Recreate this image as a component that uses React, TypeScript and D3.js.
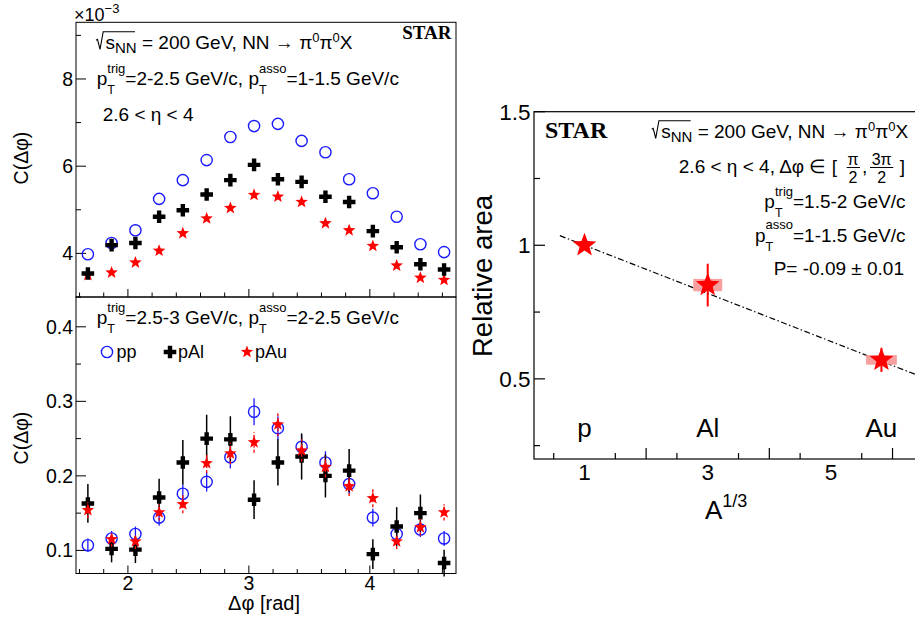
import React from "react";
import * as d3 from "d3";

// ---------- data ----------
const dphiBins = [1.669, 1.865, 2.062, 2.258, 2.454, 2.651, 2.847, 3.043, 3.240, 3.436, 3.633, 3.829, 4.025, 4.222, 4.418, 4.614];

// top panel (x 1e-3)
const topPP = [3.98, 4.24, 4.53, 5.25, 5.68, 6.14, 6.67, 6.92, 6.97, 6.58, 6.32, 5.70, 5.38, 4.84, 4.21, 4.03];
const topPAl = [3.54, 4.19, 4.24, 4.84, 4.99, 5.35, 5.68, 6.03, 5.70, 5.64, 5.30, 5.18, 4.51, 4.14, 3.75, 3.63];
const topPAlErr = [0.08, 0.08, 0.08, 0.09, 0.09, 0.09, 0.1, 0.1, 0.1, 0.1, 0.1, 0.09, 0.09, 0.08, 0.08, 0.08];
const topPAu = [3.50, 3.56, 3.79, 4.06, 4.46, 4.80, 5.04, 5.34, 5.30, 5.18, 4.69, 4.53, 4.17, 3.72, 3.44, 3.39];

// bottom panel
const botPP = [0.107, 0.116, 0.122, 0.144, 0.176, 0.192, 0.225, 0.286, 0.264, 0.239, 0.218, 0.189, 0.144, 0.122, 0.128, 0.116];
const botPPErr = [0.009, 0.01, 0.01, 0.011, 0.012, 0.013, 0.015, 0.018, 0.016, 0.016, 0.015, 0.013, 0.012, 0.011, 0.01, 0.01];
const botPAl = [0.163, 0.102, 0.101, 0.171, 0.218, 0.250, 0.249, 0.168, 0.218, 0.226, 0.200, 0.207, 0.095, 0.132, 0.150, 0.083];
const botPAlErr = [0.026, 0.018, 0.018, 0.025, 0.030, 0.032, 0.031, 0.026, 0.031, 0.031, 0.029, 0.029, 0.020, 0.026, 0.025, 0.018];
const botPAu = [0.154, 0.115, 0.112, 0.151, 0.162, 0.217, 0.230, 0.245, 0.269, 0.234, 0.212, 0.186, 0.170, 0.112, 0.131, 0.151];
const botPAuErr = [0.011, 0.01, 0.01, 0.011, 0.012, 0.013, 0.014, 0.014, 0.016, 0.015, 0.014, 0.013, 0.012, 0.01, 0.011, 0.011];

// right panel
const nuclei = ["p", "Al", "Au"];
const nucleiA13 = [1, 3, 5.82];
const relArea = [1.0, 0.851, 0.571];
const relAreaStat = [0.015, 0.08, 0.045];
const relAreaSys = [0, 0.023, 0.018];
const relAreaSysHalfW = [0, 0.235, 0.25];
const fitP = -0.09;
const fitStart = 0.6;

// ticks
const leftXMajor = [2, 3, 4];
const leftXAll = [1.6, 1.8, 2.0, 2.2, 2.4, 2.6, 2.8, 3.0, 3.2, 3.4, 3.6, 3.8, 4.0, 4.2, 4.4, 4.6];
const topYMajor = [4, 6, 8];
const topYMinor = [3, 5, 7, 9];
const botYMajor = [0.1, 0.2, 0.3, 0.4];
const botYMinor = [0.15, 0.25, 0.35];
const rightYMajor = [0.5, 1, 1.5];
const rightYMinor = [0.25, 0.75, 1.25];
const rightXMajor = [2, 4, 6];
const rightXMinor = [0.5, 1.5, 2.5, 3.5, 4.5, 5.5];
const rightXLabels = [1, 3, 5];

// ---------- layout ----------
const L = { x0: 76, x1: 456, yTop: 22.3, yMid: 297, yBot: 573.5 };
const R = { x0: 534, x1: 918.4, y0: 111.7, y1: 459 };

const FONT = "'Liberation Sans', Arial, Helvetica, sans-serif";
const SERIF = "'Liberation Serif', 'Times New Roman', serif";
const BLUE = "#1a1aff";
const RED = "#ff0000";

const xL = d3.scaleLinear().domain([Math.PI / 2, (3 * Math.PI) / 2]).range([L.x0, L.x1]);
const yTopS = d3.scaleLinear().domain([3.0, 9.3]).range([L.yMid, L.yTop]);
const yBotS = d3.scaleLinear().domain([0.069, 0.44]).range([L.yBot, L.yMid]);
const xR = d3.scaleLinear().domain([0.18, 6.42]).range([R.x0, R.x1]);
const yR = d3.scaleLinear().domain([0.2, 1.5]).range([R.y1, R.y0]);

function starPath(cx: number, cy: number, r: number, ratio = 0.42) {
  const pts: string[] = [];
  for (let i = 0; i < 10; i++) {
    const a = -Math.PI / 2 + (i * Math.PI) / 5;
    const rr = i % 2 ? r * ratio : r;
    pts.push(`${(cx + rr * Math.cos(a)).toFixed(2)},${(cy + rr * Math.sin(a)).toFixed(2)}`);
  }
  return "M" + pts.join("L") + "Z";
}
function crossPath(cx: number, cy: number, s: number, t: number) {
  return `M${cx - t},${cy - s}H${cx + t}V${cy - t}H${cx + s}V${cy + t}H${cx + t}V${cy + s}H${cx - t}V${cy + t}H${cx - s}V${cy - t}H${cx - t}Z`;
}

const Circle = ({ x, y }: { x: number; y: number }) => (
  <circle cx={x} cy={y} r={5.6} fill="none" stroke={BLUE} strokeWidth={1.4} />
);
const Cross = ({ x, y }: { x: number; y: number }) => <path d={crossPath(x, y, 6.3, 2.2)} fill="#000" />;
const Star = ({ x, y, r = 6.6 }: { x: number; y: number; r?: number }) => <path d={starPath(x, y, r)} fill={RED} />;

function pT(sup: string, key: string) {
  return [
    <tspan key={key + "p"}>p</tspan>,
    <tspan key={key + "T"} dy={9} fontSize={12.5}>T</tspan>,
    <tspan key={key + "s"} dx={-7.64} dy={-21.5} fontSize={13}>{sup}</tspan>,
  ];
}

function SqrtLine({ x0, y }: { x0: number; y: number }) {
  return (
    <g>
      <path
        d={`M${x0},${y - 9} L${x0 + 1.5},${y - 10} L${x0 + 4},${y} L${x0 + 7.2},${y - 17.6} H${x0 + 39}`}
        fill="none"
        stroke="#000"
        strokeWidth={1.1}
      />
      <text x={x0 + 9.5} y={y} fontSize={19} fontFamily={FONT}>
        s<tspan dy={4} fontSize={15}>NN</tspan>
        <tspan dy={-4}> = 200 GeV, NN → π</tspan>
        <tspan dy={-7.6} fontSize={13}>0</tspan>
        <tspan dy={7.6}>π</tspan>
        <tspan dy={-7.6} fontSize={13}>0</tspan>
        <tspan dy={7.6}>X</tspan>
      </text>
    </g>
  );
}

function LeftXTicks({ yAxis }: { yAxis: number }) {
  return (
    <g stroke="#000" strokeWidth={1}>
      {leftXAll.map((t) => {
        const major = leftXMajor.some((m) => Math.abs(m - t) < 1e-6);
        return <line key={t} x1={xL(t)} x2={xL(t)} y1={yAxis} y2={yAxis - (major ? 8 : 4.5)} />;
      })}
    </g>
  );
}

export default function App() {
  return (
    <svg width={915} height={620} style={{ position: "absolute", left: 0, top: 0, background: "#fff" }} fontFamily={FONT}>
      <rect x={0} y={0} width={915} height={620} fill="#fff" />

      {/* ===== TOP LEFT PANEL ===== */}
      <rect x={L.x0} y={L.yTop} width={L.x1 - L.x0} height={L.yMid - L.yTop} fill="none" stroke="#000" strokeWidth={1} />
      <LeftXTicks yAxis={L.yMid} />
      <g stroke="#000" strokeWidth={1}>
        {topYMajor.map((t) => <line key={t} x1={L.x0} x2={L.x0 + 10} y1={yTopS(t)} y2={yTopS(t)} />)}
        {topYMinor.map((t) => <line key={t} x1={L.x0} x2={L.x0 + 5} y1={yTopS(t)} y2={yTopS(t)} />)}
      </g>
      <g fontSize={19.5} textAnchor="end">
        {topYMajor.map((t) => (
          <text key={t} x={73} y={yTopS(t)} dy="0.36em">{t}</text>
        ))}
      </g>
      <text x={74} y={20.8} fontSize={18}>
        ×10<tspan dy={-8} fontSize={13}>−3</tspan>
      </text>
      <text transform={`translate(28,158) rotate(-90)`} textAnchor="middle" fontSize={19.5}>C(Δφ)</text>

      <SqrtLine x0={96} y={49.3} />
      <text x={451.5} y={39.3} textAnchor="end" fontFamily={SERIF} fontWeight="bold" fontSize={19}>STAR</text>
      <text x={96.7} y={85} fontSize={19}>
        {pT("trig", "a")}
        <tspan dy={12.5}>=2-2.5 GeV/c, </tspan>
        {pT("asso", "b")}
        <tspan dy={12.5}>=1-1.5 GeV/c</tspan>
      </text>
      <text x={102.7} y={120.5} fontSize={19}>2.6 &lt; η &lt; 4</text>

      {/* top data */}
      {topPP.map((v, i) => <Circle key={"tpp" + i} x={xL(dphiBins[i])} y={yTopS(v)} />)}
      {topPAu.map((v, i) => <Star key={"tau" + i} x={xL(dphiBins[i])} y={yTopS(v)} />)}
      <g stroke="#000" strokeWidth={1.5}>
        {topPAl.map((v, i) => (
          <line key={"tale" + i} x1={xL(dphiBins[i])} x2={xL(dphiBins[i])} y1={yTopS(v - topPAlErr[i])} y2={yTopS(v + topPAlErr[i])} />
        ))}
      </g>
      {topPAl.map((v, i) => <Cross key={"tal" + i} x={xL(dphiBins[i])} y={yTopS(v)} />)}

      {/* ===== BOTTOM LEFT PANEL ===== */}
      <rect x={L.x0} y={L.yMid} width={L.x1 - L.x0} height={L.yBot - L.yMid} fill="none" stroke="#000" strokeWidth={1} />
      <LeftXTicks yAxis={L.yBot} />
      <g stroke="#000" strokeWidth={1}>
        {botYMajor.map((t) => <line key={t} x1={L.x0} x2={L.x0 + 10} y1={yBotS(t)} y2={yBotS(t)} />)}
        {botYMinor.map((t) => <line key={t} x1={L.x0} x2={L.x0 + 5} y1={yBotS(t)} y2={yBotS(t)} />)}
      </g>
      <g fontSize={19.5} textAnchor="end">
        {botYMajor.map((t) => (
          <text key={t} x={73} y={yBotS(t)} dy="0.36em">{t.toFixed(1)}</text>
        ))}
      </g>
      <g fontSize={19.5} textAnchor="middle">
        {leftXMajor.map((t) => (
          <text key={t} x={xL(t)} y={590}>{t}</text>
        ))}
      </g>
      <text x={300} y={610} textAnchor="end" fontSize={20}>Δφ [rad]</text>
      <text transform={`translate(28,438) rotate(-90)`} textAnchor="middle" fontSize={19.5}>C(Δφ)</text>

      <text x={96.7} y={324} fontSize={19}>
        {pT("trig", "c")}
        <tspan dy={12.5}>=2.5-3 GeV/c, </tspan>
        {pT("asso", "d")}
        <tspan dy={12.5}>=2-2.5 GeV/c</tspan>
      </text>
      {/* legend */}
      <Circle x={107} y={352} />
      <text x={116.5} y={357.5} fontSize={18}>pp</text>
      <Cross x={170} y={352} />
      <text x={178} y={357.5} fontSize={18}>pAl</text>
      <Star x={247} y={352} />
      <text x={255} y={357.5} fontSize={18}>pAu</text>

      {/* bottom data */}
      <g stroke={BLUE} strokeWidth={1.3}>
        {botPP.map((v, i) => (
          <line key={"bppe" + i} x1={xL(dphiBins[i])} x2={xL(dphiBins[i])} y1={yBotS(v - botPPErr[i])} y2={yBotS(v + botPPErr[i])} />
        ))}
      </g>
      {botPP.map((v, i) => <Circle key={"bpp" + i} x={xL(dphiBins[i])} y={yBotS(v)} />)}
      <g stroke="#000" strokeWidth={1.5}>
        {botPAl.map((v, i) => (
          <line key={"bale" + i} x1={xL(dphiBins[i])} x2={xL(dphiBins[i])} y1={yBotS(v - botPAlErr[i])} y2={yBotS(v + botPAlErr[i])} />
        ))}
      </g>
      {botPAl.map((v, i) => <Cross key={"bal" + i} x={xL(dphiBins[i])} y={yBotS(v)} />)}
      <g stroke={RED} strokeWidth={1.3} strokeDasharray="3,2">
        {botPAu.map((v, i) => (
          <line key={"baue" + i} x1={xL(dphiBins[i])} x2={xL(dphiBins[i])} y1={yBotS(v - botPAuErr[i])} y2={yBotS(v + botPAuErr[i])} />
        ))}
      </g>
      {botPAu.map((v, i) => <Star key={"bau" + i} x={xL(dphiBins[i])} y={yBotS(v)} />)}

      {/* ===== RIGHT PANEL ===== */}
      <rect x={R.x0} y={R.y0} width={R.x1 - R.x0} height={R.y1 - R.y0} fill="none" stroke="#000" strokeWidth={1.2} />
      <g stroke="#000" strokeWidth={1.2}>
        {rightYMajor.map((t) => <line key={t} x1={R.x0} x2={R.x0 + 11} y1={yR(t)} y2={yR(t)} />)}
        {rightYMinor.map((t) => <line key={t} x1={R.x0} x2={R.x0 + 6} y1={yR(t)} y2={yR(t)} />)}
        {rightXMajor.map((t) => <line key={t} x1={xR(t)} x2={xR(t)} y1={R.y1} y2={R.y1 - 11} />)}
        {rightXMinor.map((t) => <line key={t} x1={xR(t)} x2={xR(t)} y1={R.y1} y2={R.y1 - 6} />)}
      </g>
      <g fontSize={22.5} textAnchor="end">
        {rightYMajor.map((t) => (
          <text key={t} x={530.5} y={yR(t)} dy="0.36em">{t}</text>
        ))}
      </g>
      <g fontSize={22.5} textAnchor="middle">
        {rightXLabels.map((t) => (
          <text key={t} x={xR(t)} y={480}>{t}</text>
        ))}
      </g>
      <text x={705} y={519} fontSize={26}>
        A<tspan dy={-12.5} fontSize={18}>1/3</tspan>
      </text>
      <text transform={`translate(492,357) rotate(-90)`} fontSize={27.5}>Relative area</text>

      <g fontSize={26} textAnchor="middle">
        {nuclei.map((n, i) => (
          <text key={n} x={xR(nucleiA13[i])} y={437}>{n}</text>
        ))}
      </g>

      <text x={545} y={138.3} fontFamily={SERIF} fontWeight="bold" fontSize={24}>STAR</text>
      <SqrtLine x0={651.7} y={138.3} />
      <text x={837} y={173.3} textAnchor="end" fontSize={19}>2.6 &lt; η &lt; 4, Δφ ∈ [</text>
      <g fontSize={16} textAnchor="middle">
        <text x={853} y={165}>π</text>
        <line x1={846.7} x2={860} y1={167.5} y2={167.5} stroke="#000" strokeWidth={1} />
        <text x={853} y={183.3}>2</text>
        <text x={881.7} y={165}>3π</text>
        <line x1={870} x2={893.3} y1={167.5} y2={167.5} stroke="#000" strokeWidth={1} />
        <text x={881.7} y={183.3}>2</text>
      </g>
      <text x={862} y={173.3} fontSize={19}>,</text>
      <text x={905} y={173.3} textAnchor="end" fontSize={19}>]</text>
      <text x={905.5} y={208.3} textAnchor="end" fontSize={19}>
        {pT("trig", "e")}
        <tspan dy={12.5}>=1.5-2 GeV/c</tspan>
      </text>
      <text x={905.5} y={241.7} textAnchor="end" fontSize={19}>
        {pT("asso", "f")}
        <tspan dy={12.5}>=1-1.5 GeV/c</tspan>
      </text>
      <text x={904} y={275} textAnchor="end" fontSize={19}>P= -0.09 ± 0.01</text>

      {/* fit line */}
      <line
        x1={xR(fitStart)}
        y1={yR(1 + fitP * (fitStart - 1))}
        x2={xR(6.42)}
        y2={yR(1 + fitP * (6.42 - 1))}
        stroke="#000"
        strokeWidth={1.2}
        strokeDasharray="6,2.5,1.5,2.5"
      />
      {/* systematic boxes */}
      {relArea.map((v, i) =>
        relAreaSys[i] > 0 ? (
          <rect
            key={"sys" + i}
            x={xR(nucleiA13[i] - relAreaSysHalfW[i])}
            y={yR(v + relAreaSys[i])}
            width={xR(nucleiA13[i] + relAreaSysHalfW[i]) - xR(nucleiA13[i] - relAreaSysHalfW[i])}
            height={yR(v - relAreaSys[i]) - yR(v + relAreaSys[i])}
            fill="#f7a0a0"
          />
        ) : null
      )}
      <g stroke={RED} strokeWidth={2}>
        {relArea.map((v, i) => (
          <line key={"st" + i} x1={xR(nucleiA13[i])} x2={xR(nucleiA13[i])} y1={yR(v - relAreaStat[i])} y2={yR(v + relAreaStat[i])} />
        ))}
      </g>
      {relArea.map((v, i) => <Star key={"rs" + i} x={xR(nucleiA13[i])} y={yR(v)} r={12.5} />)}
    </svg>
  );
}
